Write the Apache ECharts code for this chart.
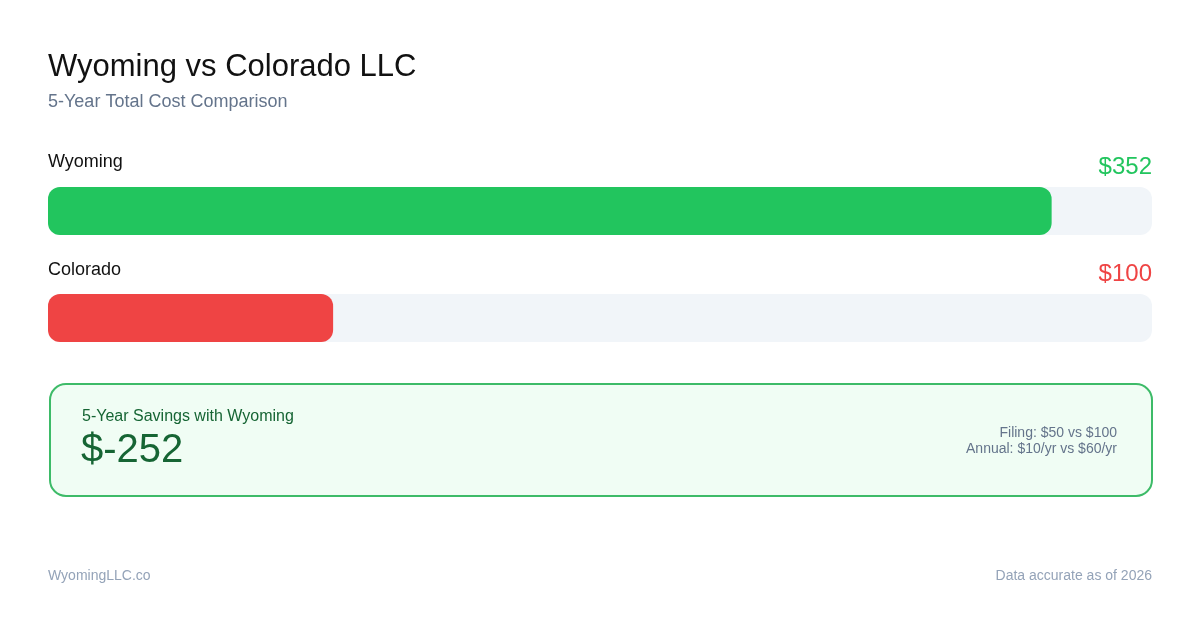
<!DOCTYPE html>
<html>
<head>
<meta charset="utf-8">
<script src="https://cdn.jsdelivr.net/npm/echarts@6/dist/echarts.min.js"></script>
<style>
html, body { margin: 0; padding: 0; background: #fff; }
#chart { width: 1200px; height: 630px; }
</style>
</head>
<body>
<div id="chart"></div>
<script>
/*##########  data  ##########*/
var states = ['Wyoming', 'Colorado'];
var totals = [352, 100];
var barColors = ['#22c55e', '#ef4444'];
var detailLines = ['Filing: $50 vs $100', 'Annual: $10/yr vs $60/yr'];

var savings = totals[1] - totals[0];
var font = '"Liberation Sans", Arial, sans-serif';

var dom = document.getElementById('chart');
var myChart = echarts.init(dom);

// names + values above each track
var nameY = [153, 261];
var valueY = [155, 262];
var graphics = [
    { type: 'text', left: 48, top: 52, style: { text: 'Wyoming vs Colorado LLC', fill: '#111111', font: '31px ' + font } },
    { type: 'text', left: 48, top: 93, style: { text: '5-Year Total Cost Comparison', fill: '#64748b', font: '18px ' + font } }
];
states.forEach(function (s, i) {
    graphics.push({ type: 'text', left: 48, top: nameY[i], style: { text: s, fill: '#111111', font: '18px ' + font } });
    graphics.push({ type: 'text', right: 48, top: valueY[i], style: { text: '$' + totals[i], fill: barColors[i], font: '24px ' + font } });
});

// savings box
graphics.push({
    type: 'rect', left: 49, top: 383,
    shape: { width: 1102, height: 112, r: 16 },
    style: { fill: '#f0fdf4', stroke: '#3dbb68', lineWidth: 2 }
});
graphics.push({ type: 'text', left: 82, top: 409, style: { text: '5-Year Savings with Wyoming', fill: '#166534', font: '16px ' + font } });
graphics.push({ type: 'text', left: 81, top: 431, style: { text: '$' + savings, fill: '#166534', font: '40px ' + font } });
detailLines.forEach(function (t, i) {
    graphics.push({ type: 'text', right: 83, top: 426 + i * 16, style: { text: t, fill: '#64748b', font: '14px ' + font, align: 'right' } });
});

// footer
graphics.push({ type: 'text', left: 48, top: 569, style: { text: 'WyomingLLC.co', fill: '#94a3b8', font: '14px ' + font } });
graphics.push({ type: 'text', right: 48, top: 569, style: { text: 'Data accurate as of 2026', fill: '#94a3b8', font: '14px ' + font } });

var option = {
    animation: false,
    backgroundColor: '#ffffff',
    grid: { left: 48, right: 48, top: 157.5, height: 214 },
    xAxis: {
        type: 'value',
        min: 0,
        max: Math.max.apply(null, totals) * 1.1,
        show: false
    },
    yAxis: {
        type: 'category',
        data: states,
        inverse: true,
        show: false
    },
    series: [
        {
            type: 'bar',
            barWidth: 48,
            showBackground: true,
            backgroundStyle: { color: '#f1f5f9', borderRadius: 12 },
            data: totals.map(function (v, i) {
                return { value: v, itemStyle: { color: barColors[i], borderRadius: 12 } };
            })
        }
    ],
    graphic: graphics
};

myChart.setOption(option);
</script>
</body>
</html>
